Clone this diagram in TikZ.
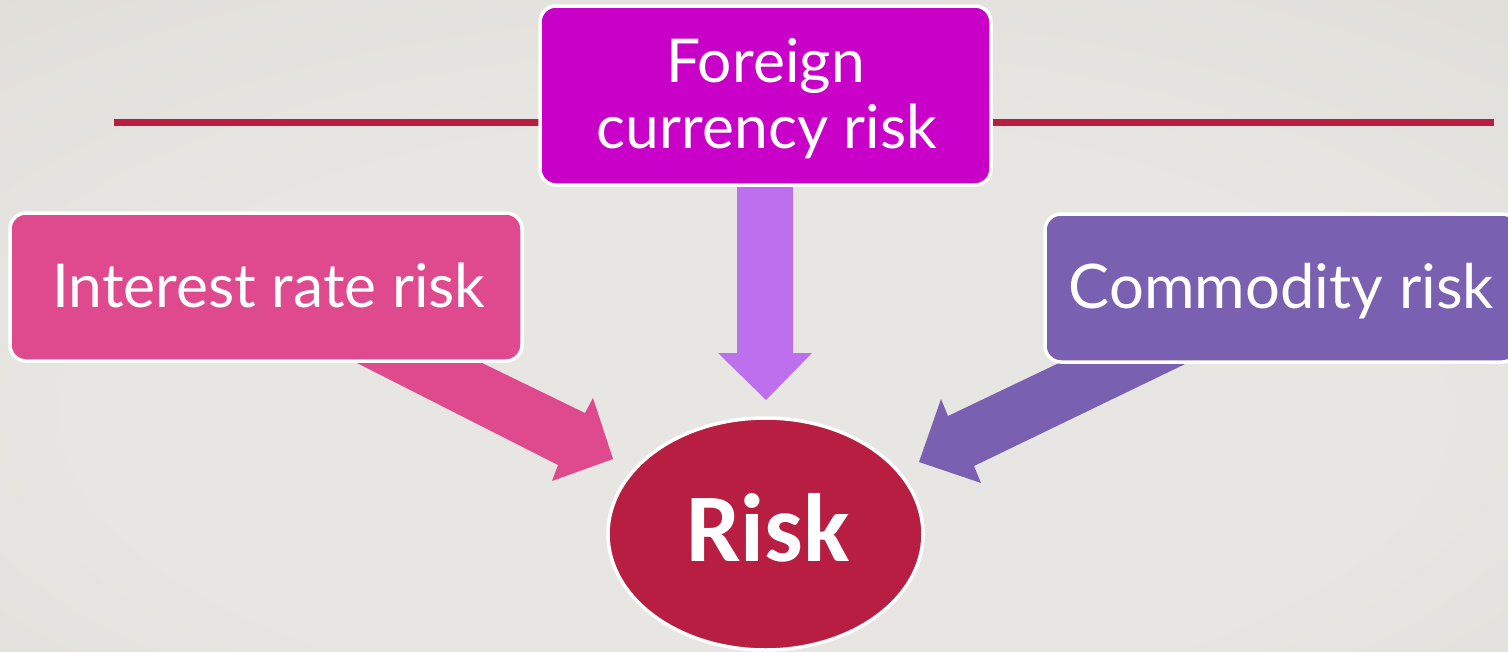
\documentclass[tikz,border=0pt]{standalone}
\usepackage{fontspec}
\setmainfont{Lato}
\newfontfamily\riskfont{Carlito}
\usetikzlibrary{shapes.geometric}

\definecolor{bgin}{HTML}{E8E6E2}
\definecolor{bgout}{HTML}{D3D0CA}
\definecolor{crimson}{HTML}{B81E42}
\definecolor{magentabox}{HTML}{C800C8}
\definecolor{pinkbox}{HTML}{DF498D}
\definecolor{violetbox}{HTML}{7A60B0}
\definecolor{lilac}{HTML}{BD70EE}

\pgfdeclareradialshading{backdrop}{\pgfpoint{0bp}{-10bp}}{%
  color(0bp)=(bgin); color(22bp)=(bgin); color(70bp)=(bgout)}

\tikzset{
  riskbox/.style={rectangle, rounded corners=16pt, draw=white, line width=3.5pt,
    inner sep=0pt},
  boxtext/.style={anchor=base, text=white, inner sep=0pt,
    font=\fontsize{60.5}{66}\selectfont},
  centre/.style={ellipse, draw=white, line width=3.5pt, fill=crimson, inner sep=0pt},
}

\begin{document}
\begin{tikzpicture}[x=1pt, y=-1pt]
  \useasboundingbox (0,0) rectangle (1508,651);
  \shade[shading=backdrop] (0,0) rectangle (1508,651);

  % title rule
  \coordinate (ruleL) at (114,122);
  \coordinate (ruleR) at (1494,122);
  \draw[crimson, line width=7pt] (ruleL) -- (ruleR);

  % block arrows (tails tucked under the boxes)
  \fill[lilac] (737,180) -- (737,353) -- (718,353) -- (766,400)
    -- (812,353) -- (793,353) -- (793,180) -- cycle;
  \fill[pinkbox] (335.3,352) -- (558,465) -- (552,481) -- (613,459)
    -- (593,398) -- (585,413) -- (459.4,352) -- cycle;
  \fill[violetbox] (1082,352) -- (948,416) -- (941,399) -- (919,462)
    -- (981,483) -- (974,466) -- (1210,352) -- cycle;

  % boxes
  \node[riskbox, fill=magentabox, minimum width=451pt, minimum height=179pt]
    (fx) at (765.5,95.5) {};
  \node[riskbox, fill=pinkbox, minimum width=512pt, minimum height=148pt]
    (ir) at (266,287) {};
  \node[riskbox, fill=violetbox, minimum width=473pt, minimum height=148pt]
    (cm) at (1281.5,288) {};

  \node[boxtext] (fx1) at (765.5,82) {Foreign};
  \node[boxtext] (fx2) at (767,148) {currency risk};
  \node[boxtext] (irt) at (269,307) {Interest rate risk};
  \node[boxtext, font=\fontsize{61.5}{66}\selectfont] (cmt) at (1281.5,308) {Commodity risk};

  % central ellipse
  \node[centre, minimum width=315pt, minimum height=232pt] (risk) at (765.5,534) {};
  \node[anchor=base, text=white, inner sep=0pt,
    font=\riskfont\bfseries\fontsize{97}{97}\selectfont] (riskt) at (768,561) {Risk};
\end{tikzpicture}
\end{document}
